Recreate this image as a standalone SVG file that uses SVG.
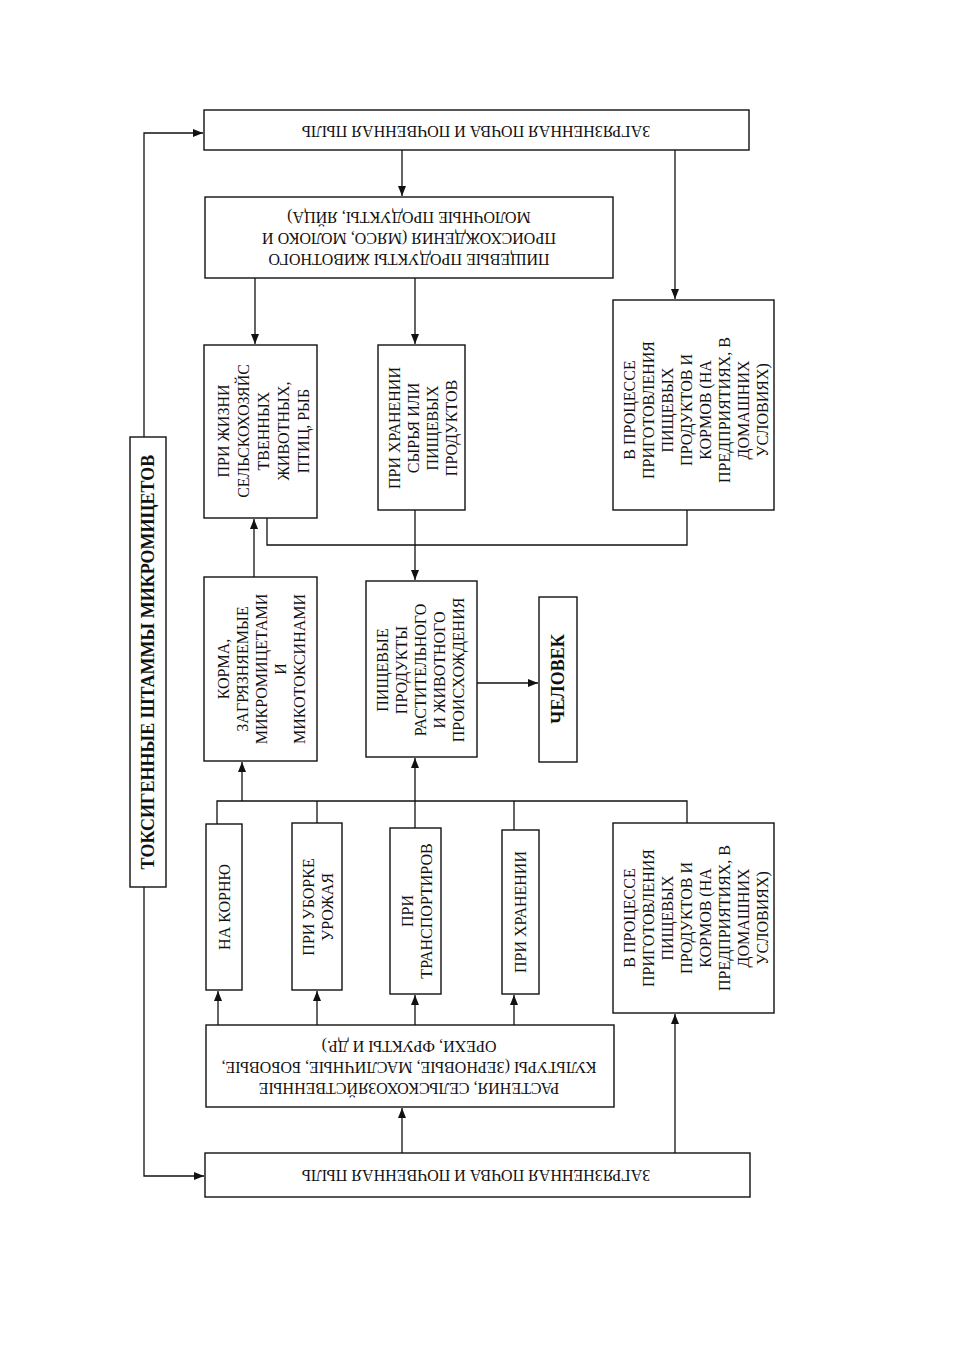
<svg xmlns="http://www.w3.org/2000/svg" width="954" height="1350" viewBox="0 0 954 1350">
<defs>
<style>
.box{fill:#fff;stroke:#111;stroke-width:1.4}
.ln{fill:none;stroke:#111;stroke-width:1.3}
.t{font-family:"Liberation Serif","Times New Roman",serif;font-size:16px;fill:#111;text-anchor:middle;dominant-baseline:central}
.b{font-weight:bold;font-size:18px}
</style>
<marker id="ah" viewBox="0 0 10 8" refX="10" refY="4" markerWidth="10" markerHeight="8" markerUnits="userSpaceOnUse" orient="auto">
<path d="M0,0 L10,4 L0,8 Z" fill="#111"/>
</marker>
</defs>
<rect width="954" height="1350" fill="#fff"/>

<g id="connectors">
<path class="ln" d="M144,437 V133 H203" marker-end="url(#ah)"/>
<path class="ln" d="M144,887 V1176 H204" marker-end="url(#ah)"/>
<path class="ln" d="M402,150 V196" marker-end="url(#ah)"/>
<path class="ln" d="M675,150 V299" marker-end="url(#ah)"/>
<path class="ln" d="M255,278 V344" marker-end="url(#ah)"/>
<path class="ln" d="M415,278 V344" marker-end="url(#ah)"/>
<path class="ln" d="M267,518 V545 H687 V510"/>
<path class="ln" d="M415,510 V580" marker-end="url(#ah)"/>
<path class="ln" d="M254,577 V519" marker-end="url(#ah)"/>
<path class="ln" d="M477,683 H538" marker-end="url(#ah)"/>
<path class="ln" d="M217,824 V801 H687 V823"/>
<path class="ln" d="M317,801 V823"/>
<path class="ln" d="M514,801 V830"/>
<path class="ln" d="M242,801 V762" marker-end="url(#ah)"/>
<path class="ln" d="M415,828 V758" marker-end="url(#ah)"/>
<path class="ln" d="M218,1025 V991" marker-end="url(#ah)"/>
<path class="ln" d="M317,1025 V991" marker-end="url(#ah)"/>
<path class="ln" d="M415,1025 V995" marker-end="url(#ah)"/>
<path class="ln" d="M514,1025 V995" marker-end="url(#ah)"/>
<path class="ln" d="M402,1153 V1108" marker-end="url(#ah)"/>
<path class="ln" d="M675,1153 V1014" marker-end="url(#ah)"/>
</g>

<g id="soil-top">
<rect class="box" x="204" y="110" width="545" height="40"/>
<text class="t" transform="translate(476,131) rotate(180)">ЗАГРЯЗНЕННАЯ ПОЧВА И ПОЧВЕННАЯ ПЫЛЬ</text>
</g>

<g id="animal-products">
<rect class="box" x="205" y="197" width="408" height="81"/>
<text class="t" transform="translate(409,239) rotate(180)"><tspan x="0" y="-21">ПИЩЕВЫЕ  ПРОДУКТЫ ЖИВОТНОГО</tspan><tspan x="0" y="0">ПРОИСХОЖДЕНИЯ (МЯСО, МОЛОКО И</tspan><tspan x="0" y="21">МОЛОЧНЫЕ ПРОДУКТЫ, ЯЙЦА)</tspan></text>
</g>

<g id="toxigenic">
<rect class="box" x="130" y="437" width="36" height="450"/>
<text class="t b" transform="translate(148,662) rotate(-90)">ТОКСИГЕННЫЕ ШТАММЫ МИКРОМИЦЕТОВ</text>
</g>

<g id="animals-life">
<rect class="box" x="204" y="345" width="113" height="173"/>
<text class="t" transform="translate(263,431) rotate(-90)"><tspan x="0" y="-40">ПРИ ЖИЗНИ</tspan><tspan x="0" y="-20">СЕЛЬСКОХОЗЯЙС</tspan><tspan x="0" y="0">ТВЕННЫХ</tspan><tspan x="0" y="20">ЖИВОТНЫХ,</tspan><tspan x="0" y="40">ПТИЦ, РЫБ</tspan></text>
</g>

<g id="raw-storage">
<rect class="box" x="378" y="345" width="87" height="165"/>
<text class="t" transform="translate(422,428) rotate(-90)"><tspan x="0" y="-28.5">ПРИ ХРАНЕНИИ</tspan><tspan x="0" y="-9.5">СЫРЬЯ ИЛИ</tspan><tspan x="0" y="9.5">ПИЩЕВЫХ</tspan><tspan x="0" y="28.5">ПРОДУКТОВ</tspan></text>
</g>

<g id="processing-top">
<rect class="box" x="613" y="300" width="161" height="210"/>
<text class="t" transform="translate(695,410) rotate(-90)"><tspan x="0" y="-66.5">В ПРОЦЕССЕ</tspan><tspan x="0" y="-47.5">ПРИГОТОВЛЕНИЯ</tspan><tspan x="0" y="-28.5">ПИЩЕВЫХ</tspan><tspan x="0" y="-9.5">ПРОДУКТОВ И</tspan><tspan x="0" y="9.5">КОРМОВ (НА</tspan><tspan x="0" y="28.5">ПРЕДПРИЯТИЯХ, В</tspan><tspan x="0" y="47.5">ДОМАШНИХ</tspan><tspan x="0" y="66.5">УСЛОВИЯХ)</tspan></text>
</g>

<g id="feed">
<rect class="box" x="204" y="577" width="113" height="184"/>
<text class="t" transform="translate(261,669) rotate(-90)"><tspan x="0" y="-38">КОРМА,</tspan><tspan x="0" y="-19">ЗАГРЯЗНЯЕМЫЕ</tspan><tspan x="0" y="0">МИКРОМИЦЕТАМИ</tspan><tspan x="0" y="19">И</tspan><tspan x="0" y="38">МИКОТОКСИНАМИ</tspan></text>
</g>

<g id="food-products">
<rect class="box" x="366" y="581" width="111" height="176"/>
<text class="t" transform="translate(420,670) rotate(-90)"><tspan x="0" y="-38">ПИЩЕВЫЕ</tspan><tspan x="0" y="-19">ПРОДУКТЫ</tspan><tspan x="0" y="0">РАСТИТЕЛЬНОГО</tspan><tspan x="0" y="19">И ЖИВОТНОГО</tspan><tspan x="0" y="38">ПРОИСХОЖДЕНИЯ</tspan></text>
</g>

<g id="human">
<rect class="box" x="539" y="597" width="38" height="165"/>
<text class="t b" transform="translate(558,679) rotate(-90)">ЧЕЛОВЕК</text>
</g>

<g id="on-root">
<rect class="box" x="206" y="824" width="36" height="166"/>
<text class="t" transform="translate(224,907) rotate(-90)">НА КОРНЮ</text>
</g>

<g id="harvest">
<rect class="box" x="292" y="823" width="50" height="167"/>
<text class="t" transform="translate(317,907) rotate(-90)"><tspan x="0" y="-9.5">ПРИ УБОРКЕ</tspan><tspan x="0" y="9.5">УРОЖАЯ</tspan></text>
</g>

<g id="transport">
<rect class="box" x="390" y="828" width="51" height="166"/>
<text class="t" transform="translate(416,911) rotate(-90)"><tspan x="0" y="-9.5">ПРИ</tspan><tspan x="0" y="9.5">ТРАНСПОРТИРОВ</tspan></text>
</g>

<g id="storage">
<rect class="box" x="502" y="830" width="37" height="164"/>
<text class="t" transform="translate(520,912) rotate(-90)">ПРИ ХРАНЕНИИ</text>
</g>

<g id="processing-bottom">
<rect class="box" x="613" y="823" width="161" height="190"/>
<text class="t" transform="translate(695,918) rotate(-90)"><tspan x="0" y="-66.5">В ПРОЦЕССЕ</tspan><tspan x="0" y="-47.5">ПРИГОТОВЛЕНИЯ</tspan><tspan x="0" y="-28.5">ПИЩЕВЫХ</tspan><tspan x="0" y="-9.5">ПРОДУКТОВ И</tspan><tspan x="0" y="9.5">КОРМОВ (НА</tspan><tspan x="0" y="28.5">ПРЕДПРИЯТИЯХ, В</tspan><tspan x="0" y="47.5">ДОМАШНИХ</tspan><tspan x="0" y="66.5">УСЛОВИЯХ)</tspan></text>
</g>

<g id="plants">
<rect class="box" x="206" y="1025" width="408" height="82"/>
<text class="t" transform="translate(409,1068) rotate(180)"><tspan x="0" y="-21">РАСТЕНИЯ, СЕЛЬСКОХОЗЯЙСТВЕННЫЕ</tspan><tspan x="0" y="0">КУЛЬТУРЫ (ЗЕРНОВЫЕ, МАСЛИЧНЫЕ, БОБОВЫЕ,</tspan><tspan x="0" y="21">ОРЕХИ, ФРУКТЫ И ДР.)</tspan></text>
</g>

<g id="soil-bottom">
<rect class="box" x="205" y="1153" width="545" height="44"/>
<text class="t" transform="translate(476,1175) rotate(180)">ЗАГРЯЗНЕННАЯ ПОЧВА И ПОЧВЕННАЯ ПЫЛЬ</text>
</g>
</svg>
